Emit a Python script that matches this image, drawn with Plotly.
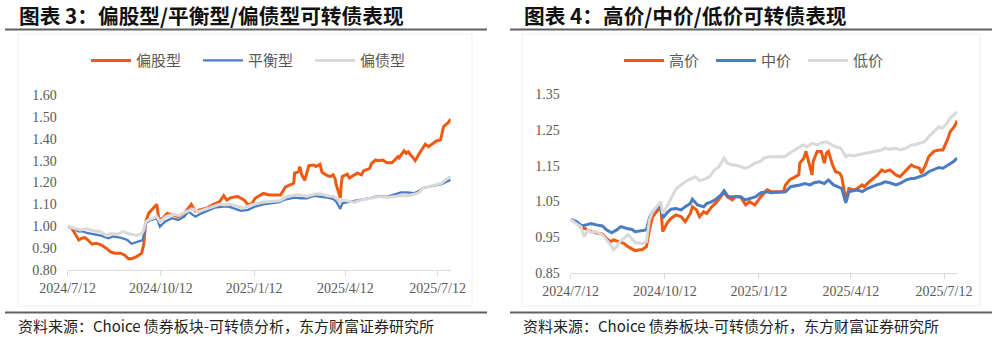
import plotly.graph_objects as go

W, H = 997, 337

# ---------------- data: left panel (偏股型/平衡型/偏债型) ----------------
eq_dates = ["2024-07-12","2024-07-16","2024-07-19","2024-07-23","2024-07-26","2024-07-29","2024-08-01","2024-08-05",
            "2024-08-09","2024-08-14","2024-08-19","2024-08-23","2024-08-27","2024-09-02","2024-09-06","2024-09-10",
            "2024-09-13","2024-09-18","2024-09-23","2024-09-25","2024-09-27","2024-09-30","2024-10-08","2024-10-10",
            "2024-10-14","2024-10-18","2024-10-24","2024-10-29","2024-11-04","2024-11-08","2024-11-11","2024-11-15",
            "2024-11-21","2024-11-26","2024-12-02","2024-12-09","2024-12-13","2024-12-16","2024-12-20","2024-12-27",
            "2025-01-02","2025-01-06","2025-01-10","2025-01-13","2025-01-21","2025-01-27","2025-02-07","2025-02-10",
            "2025-02-12","2025-02-17","2025-02-20","2025-02-21","2025-02-25","2025-02-26","2025-02-28","2025-03-03",
            "2025-03-05","2025-03-07","2025-03-12","2025-03-14","2025-03-18","2025-03-20","2025-03-24","2025-03-28",
            "2025-03-31","2025-04-02","2025-04-03","2025-04-07","2025-04-08","2025-04-09","2025-04-14","2025-04-16",
            "2025-04-21","2025-04-24","2025-04-28","2025-04-30","2025-05-06","2025-05-08","2025-05-12","2025-05-14",
            "2025-05-19","2025-05-23","2025-05-28","2025-06-03","2025-06-04","2025-06-09","2025-06-11","2025-06-13",
            "2025-06-17","2025-06-20","2025-06-24","2025-06-27","2025-06-30","2025-07-03","2025-07-08","2025-07-11",
            "2025-07-15","2025-07-16","2025-07-18","2025-07-23","2025-07-25"]
eq_vals = [1.000,0.991,0.968,0.937,0.945,0.948,0.937,0.918,
           0.922,0.915,0.900,0.884,0.877,0.877,0.869,0.851,
           0.851,0.861,0.877,0.915,1.021,1.060,1.100,1.029,
           1.037,1.059,1.052,1.044,1.059,1.082,1.100,1.070,
           1.075,1.082,1.098,1.113,1.140,1.120,1.131,1.136,
           1.120,1.098,1.105,1.128,1.150,1.143,1.143,1.166,
           1.180,1.190,1.197,1.243,1.250,1.273,1.235,1.210,
           1.247,1.277,1.280,1.273,1.283,1.247,1.235,1.227,
           1.235,1.216,1.190,1.130,1.190,1.227,1.238,1.220,
           1.235,1.243,1.235,1.253,1.265,1.288,1.303,1.300,
           1.303,1.290,1.290,1.318,1.313,1.345,1.333,1.340,
           1.318,1.300,1.333,1.356,1.375,1.364,1.380,1.390,
           1.395,1.418,1.456,1.476,1.490]

bal_dates = ["2024-07-12","2024-07-17","2024-07-23","2024-07-26","2024-08-01","2024-08-08","2024-08-14","2024-08-21",
             "2024-08-26","2024-09-02","2024-09-09","2024-09-13","2024-09-20","2024-09-24","2024-09-27","2024-09-30",
             "2024-10-08","2024-10-11","2024-10-16","2024-10-23","2024-10-29","2024-11-04","2024-11-08","2024-11-15",
             "2024-11-21","2024-11-28","2024-12-04","2024-12-13","2024-12-18","2024-12-23","2024-12-30","2025-01-06",
             "2025-01-13","2025-01-21","2025-02-06","2025-02-10","2025-02-14","2025-02-21","2025-02-27","2025-03-05",
             "2025-03-12","2025-03-18","2025-03-25","2025-03-31","2025-04-03","2025-04-07","2025-04-09","2025-04-14",
             "2025-04-21","2025-04-28","2025-05-06","2025-05-12","2025-05-16","2025-05-23","2025-05-30","2025-06-06",
             "2025-06-12","2025-06-19","2025-06-24","2025-06-27","2025-07-04","2025-07-11","2025-07-16","2025-07-21",
             "2025-07-25"]
bal_vals = [1.000,0.991,0.976,0.978,0.968,0.963,0.957,0.945,
            0.953,0.948,0.937,0.920,0.930,0.937,1.014,1.024,
            1.037,0.998,1.021,1.037,1.029,1.044,1.067,1.044,
            1.059,1.075,1.085,1.090,1.090,1.082,1.070,1.075,
            1.090,1.100,1.110,1.120,1.125,1.131,1.128,1.128,
            1.139,1.136,1.131,1.125,1.113,1.079,1.105,1.110,
            1.116,1.119,1.128,1.136,1.139,1.134,1.146,1.155,
            1.155,1.151,1.162,1.174,1.181,1.189,1.192,1.204,
            1.212]

bond_dates = ["2024-07-12","2024-07-17","2024-07-24","2024-07-31","2024-08-06","2024-08-13","2024-08-19","2024-08-23",
              "2024-08-30","2024-09-05","2024-09-10","2024-09-18","2024-09-23","2024-09-25","2024-09-27","2024-09-30",
              "2024-10-08","2024-10-11","2024-10-17","2024-10-24","2024-10-30","2024-11-06","2024-11-13","2024-11-18",
              "2024-11-25","2024-12-02","2024-12-09","2024-12-13","2024-12-20","2024-12-27","2025-01-02","2025-01-10",
              "2025-01-20","2025-02-06","2025-02-10","2025-02-14","2025-02-21","2025-02-27","2025-03-05","2025-03-12",
              "2025-03-18","2025-03-25","2025-03-31","2025-04-03","2025-04-07","2025-04-09","2025-04-14","2025-04-21",
              "2025-04-28","2025-05-06","2025-05-12","2025-05-16","2025-05-23","2025-05-30","2025-06-06","2025-06-12",
              "2025-06-19","2025-06-24","2025-06-27","2025-07-04","2025-07-11","2025-07-16","2025-07-21","2025-07-25"]
bond_vals = [1.000,0.994,0.983,0.988,0.979,0.976,0.958,0.966,
             0.963,0.975,0.966,0.958,0.966,0.983,1.021,1.029,
             1.044,1.021,1.044,1.055,1.049,1.067,1.079,1.067,
             1.079,1.090,1.100,1.098,1.100,1.090,1.085,1.098,
             1.110,1.116,1.128,1.136,1.143,1.143,1.136,1.146,
             1.149,1.139,1.136,1.128,1.110,1.120,1.116,1.110,
             1.120,1.128,1.131,1.136,1.131,1.136,1.140,1.140,
             1.146,1.155,1.171,1.181,1.189,1.197,1.216,1.227]

# ---------------- data: right panel (高价/中价/低价) ----------------
hi_dates = ["2024-07-12","2024-07-18","2024-07-23","2024-07-26","2024-08-01","2024-08-06","2024-08-12","2024-08-16",
            "2024-08-20","2024-08-23","2024-08-28","2024-09-02","2024-09-06","2024-09-11","2024-09-13","2024-09-20",
            "2024-09-24","2024-09-27","2024-09-30","2024-10-08","2024-10-10","2024-10-14","2024-10-18","2024-10-23",
            "2024-10-28","2024-11-01","2024-11-06","2024-11-08","2024-11-12","2024-11-15","2024-11-19","2024-11-22",
            "2024-11-27","2024-12-02","2024-12-06","2024-12-09","2024-12-12","2024-12-17","2024-12-20","2024-12-25",
            "2024-12-30","2025-01-03","2025-01-08","2025-01-14","2025-01-20","2025-01-24","2025-02-05","2025-02-07",
            "2025-02-11","2025-02-14","2025-02-17","2025-02-20","2025-02-21","2025-02-25","2025-02-27","2025-03-03",
            "2025-03-05","2025-03-06","2025-03-10","2025-03-14","2025-03-17","2025-03-19","2025-03-21","2025-03-25",
            "2025-03-28","2025-04-01","2025-04-03","2025-04-07","2025-04-10","2025-04-15","2025-04-18","2025-04-23",
            "2025-04-25","2025-04-30","2025-05-08","2025-05-12","2025-05-15","2025-05-20","2025-05-26","2025-05-30",
            "2025-06-05","2025-06-10","2025-06-13","2025-06-18","2025-06-20","2025-06-24","2025-06-27","2025-07-02",
            "2025-07-07","2025-07-11","2025-07-16","2025-07-18","2025-07-22","2025-07-25"]
hi_vals = [1.000,0.990,0.974,0.974,0.965,0.962,0.958,0.946,
           0.937,0.942,0.937,0.932,0.923,0.915,0.912,0.915,
           0.923,0.970,1.007,1.035,0.965,0.988,1.002,1.012,
           1.007,0.993,1.016,1.035,1.026,1.007,1.021,1.016,
           1.035,1.049,1.063,1.075,1.063,1.054,1.063,1.063,
           1.040,1.049,1.040,1.063,1.082,1.077,1.077,1.096,
           1.110,1.114,1.119,1.124,1.157,1.171,1.190,1.147,
           1.124,1.161,1.190,1.190,1.157,1.185,1.190,1.152,
           1.133,1.129,1.119,1.054,1.086,1.082,1.086,1.096,
           1.091,1.105,1.124,1.138,1.133,1.138,1.124,1.119,
           1.138,1.152,1.147,1.143,1.129,1.152,1.175,1.190,
           1.194,1.194,1.227,1.245,1.259,1.276]

mid_dates = ["2024-07-12","2024-07-18","2024-07-23","2024-07-26","2024-08-01","2024-08-06","2024-08-12","2024-08-16",
             "2024-08-21","2024-08-26","2024-08-30","2024-09-05","2024-09-10","2024-09-13","2024-09-20","2024-09-24",
             "2024-09-27","2024-09-30","2024-10-08","2024-10-10","2024-10-14","2024-10-18","2024-10-23","2024-10-28",
             "2024-11-01","2024-11-06","2024-11-08","2024-11-13","2024-11-19","2024-11-22","2024-11-27","2024-12-02",
             "2024-12-06","2024-12-09","2024-12-13","2024-12-17","2024-12-20","2024-12-25","2024-12-30","2025-01-03",
             "2025-01-09","2025-01-14","2025-01-20","2025-01-24","2025-02-07","2025-02-12","2025-02-17","2025-02-21",
             "2025-02-26","2025-03-03","2025-03-07","2025-03-12","2025-03-17","2025-03-21","2025-03-26","2025-03-31",
             "2025-04-03","2025-04-07","2025-04-10","2025-04-15","2025-04-18","2025-04-23","2025-04-28","2025-05-07",
             "2025-05-12","2025-05-15","2025-05-20","2025-05-26","2025-05-30","2025-06-05","2025-06-10","2025-06-13",
             "2025-06-18","2025-06-23","2025-06-27","2025-07-02","2025-07-07","2025-07-11","2025-07-16","2025-07-21",
             "2025-07-25"]
mid_vals = [1.000,0.993,0.981,0.984,0.988,0.984,0.981,0.970,
            0.962,0.970,0.979,0.974,0.971,0.965,0.967,0.970,
            1.003,1.021,1.040,1.003,1.017,1.028,1.030,1.026,
            1.035,1.044,1.056,1.040,1.035,1.044,1.049,1.058,
            1.068,1.080,1.063,1.063,1.061,1.063,1.054,1.058,
            1.063,1.074,1.077,1.074,1.077,1.091,1.093,1.096,
            1.100,1.096,1.102,1.105,1.100,1.110,1.096,1.091,
            1.086,1.046,1.077,1.080,1.082,1.077,1.086,1.096,
            1.100,1.105,1.102,1.096,1.100,1.110,1.114,1.114,
            1.119,1.124,1.133,1.138,1.145,1.143,1.152,1.161,
            1.171]

lo_dates = ["2024-07-12","2024-07-16","2024-07-22","2024-07-25","2024-07-29","2024-08-01","2024-08-06","2024-08-12",
            "2024-08-16","2024-08-20","2024-08-23","2024-08-26","2024-08-29","2024-09-02","2024-09-06","2024-09-11",
            "2024-09-13","2024-09-20","2024-09-24","2024-09-27","2024-09-30","2024-10-08","2024-10-10","2024-10-14",
            "2024-10-18","2024-10-23","2024-10-28","2024-11-01","2024-11-06","2024-11-11","2024-11-15","2024-11-20",
            "2024-11-25","2024-11-29","2024-12-04","2024-12-09","2024-12-12","2024-12-17","2024-12-20","2024-12-25",
            "2024-12-30","2025-01-03","2025-01-08","2025-01-13","2025-01-17","2025-01-22","2025-02-06","2025-02-11",
            "2025-02-14","2025-02-19","2025-02-24","2025-02-28","2025-03-05","2025-03-10","2025-03-14","2025-03-19",
            "2025-03-24","2025-03-28","2025-04-02","2025-04-07","2025-04-10","2025-04-15","2025-04-18","2025-04-23",
            "2025-04-28","2025-05-07","2025-05-12","2025-05-15","2025-05-20","2025-05-26","2025-05-30","2025-06-05",
            "2025-06-10","2025-06-13","2025-06-18","2025-06-23","2025-06-27","2025-07-02","2025-07-07","2025-07-10",
            "2025-07-15","2025-07-18","2025-07-22","2025-07-25"]
lo_vals = [1.000,0.990,0.979,0.951,0.970,0.962,0.965,0.956,
           0.942,0.928,0.914,0.923,0.937,0.946,0.956,0.942,
           0.934,0.932,0.937,0.998,1.021,1.049,1.016,1.035,
           1.058,1.085,1.096,1.105,1.112,1.119,1.108,1.112,
           1.120,1.136,1.147,1.171,1.157,1.152,1.152,1.147,
           1.143,1.147,1.157,1.161,1.171,1.175,1.175,1.185,
           1.190,1.199,1.208,1.203,1.213,1.208,1.214,1.217,
           1.208,1.203,1.199,1.175,1.180,1.177,1.180,1.183,
           1.185,1.190,1.194,1.199,1.196,1.199,1.194,1.199,
           1.208,1.208,1.213,1.217,1.231,1.245,1.259,1.255,
           1.269,1.283,1.292,1.301]

# ---------------- labels ----------------
left_names = ["偏股型", "平衡型", "偏债型"]
right_names = ["高价", "中价", "低价"]
tick_dates = ["2024-07-12", "2024-10-12", "2025-01-12", "2025-04-12", "2025-07-12"]
tick_labels = ["2024/7/12", "2024/10/12", "2025/1/12", "2025/4/12", "2025/7/12"]
title_left = "图表 3：偏股型/平衡型/偏债型可转债表现"
title_right = "图表 4：高价/中价/低价可转债表现"
source_text = "资料来源：Choice 债券板块-可转债分析，东方财富证券研究所"

ORANGE = "#EE5A12"
BLUE = "#4A7CC4"
GREY = "#D9D9D9"
AXIS_GREY = "#D9D9D9"
LABEL_GREY = "#595959"
CJK = "Noto Sans CJK SC"
SERIF = "Liberation Serif"


def px(x):
    return x / W


def py(y):
    return 1 - y / H


fig = go.Figure()
fig.add_trace(go.Scatter(x=eq_dates, y=eq_vals, name=left_names[0], mode="lines",
                         line=dict(color=ORANGE, width=3), xaxis="x", yaxis="y", legend="legend"))
fig.add_trace(go.Scatter(x=bal_dates, y=bal_vals, name=left_names[1], mode="lines",
                         line=dict(color=BLUE, width=2.3), xaxis="x", yaxis="y", legend="legend"))
fig.add_trace(go.Scatter(x=bond_dates, y=bond_vals, name=left_names[2], mode="lines",
                         line=dict(color=GREY, width=3), xaxis="x", yaxis="y", legend="legend"))
fig.add_trace(go.Scatter(x=hi_dates, y=hi_vals, name=right_names[0], mode="lines",
                         line=dict(color=ORANGE, width=3), xaxis="x2", yaxis="y2", legend="legend2"))
fig.add_trace(go.Scatter(x=mid_dates, y=mid_vals, name=right_names[1], mode="lines",
                         line=dict(color=BLUE, width=3), xaxis="x2", yaxis="y2", legend="legend2"))
fig.add_trace(go.Scatter(x=lo_dates, y=lo_vals, name=right_names[2], mode="lines",
                         line=dict(color=GREY, width=3), xaxis="x2", yaxis="y2", legend="legend2"))

xaxis_common = dict(type="date", tickmode="array", tickvals=tick_dates, ticktext=tick_labels,
                    showgrid=False, zeroline=False, showline=True, linecolor=AXIS_GREY, linewidth=1,
                    ticks="outside", ticklen=5, tickwidth=1, tickcolor=AXIS_GREY,
                    tickfont=dict(family=SERIF, size=14, color=LABEL_GREY),
                    range=["2024-07-12", "2025-07-25"], fixedrange=True, automargin=False)
yaxis_common = dict(showgrid=False, zeroline=False, showline=False, ticks="",
                    tickformat=".2f", tickfont=dict(family=SERIF, size=14, color=LABEL_GREY),
                    ticklabelstandoff=10, fixedrange=True, automargin=False)

legend_common = dict(orientation="h", xanchor="left", yanchor="middle", bgcolor="rgba(0,0,0,0)",
                     font=dict(family=CJK, size=15, color=LABEL_GREY), itemwidth=40,
                     entrywidthmode="pixels", traceorder="normal")

shapes = [
    dict(type="line", xref="paper", yref="paper", x0=px(5), x1=px(487), y0=py(29.5), y1=py(29.5),
         line=dict(color="#606060", width=2)),
    dict(type="line", xref="paper", yref="paper", x0=px(510), x1=px(992), y0=py(29.5), y1=py(29.5),
         line=dict(color="#606060", width=2)),
    dict(type="line", xref="paper", yref="paper", x0=px(5), x1=px(487), y0=py(312.5), y1=py(312.5),
         line=dict(color="#606060", width=2)),
    dict(type="line", xref="paper", yref="paper", x0=px(510), x1=px(992), y0=py(312.5), y1=py(312.5),
         line=dict(color="#606060", width=2)),
    dict(type="rect", xref="paper", yref="paper", x0=px(18), x1=px(472), y0=py(306), y1=py(34),
         line=dict(color="#EEEEEE", width=1), layer="below"),
    dict(type="rect", xref="paper", yref="paper", x0=px(522), x1=px(980), y0=py(306), y1=py(34),
         line=dict(color="#EEEEEE", width=1), layer="below"),
]

annotations = [
    dict(text="<b>" + title_left + "</b>", xref="paper", yref="paper", x=px(17), y=py(15),
         xanchor="left", yanchor="middle", showarrow=False, font=dict(family=CJK, size=20.7, color="#111111")),
    dict(text="<b>" + title_right + "</b>", xref="paper", yref="paper", x=px(522), y=py(15),
         xanchor="left", yanchor="middle", showarrow=False, font=dict(family=CJK, size=20.7, color="#111111")),
    dict(text=source_text, xref="paper", yref="paper", x=px(16), y=py(325),
         xanchor="left", yanchor="middle", showarrow=False, font=dict(family=CJK, size=15, color="#222222")),
    dict(text=source_text, xref="paper", yref="paper", x=px(521), y=py(325),
         xanchor="left", yanchor="middle", showarrow=False, font=dict(family=CJK, size=15, color="#222222")),
]

fig.update_layout(
    width=W, height=H, margin=dict(l=0, r=0, t=0, b=0, autoexpand=False),
    paper_bgcolor="white", plot_bgcolor="white",
    xaxis=dict(domain=[px(67.7), px(450.7)], anchor="y", **xaxis_common),
    yaxis=dict(domain=[py(270), py(95)], anchor="x", range=[0.80, 1.60], dtick=0.1, tick0=0.8, **yaxis_common),
    xaxis2=dict(domain=[px(570.7), px(957.3)], anchor="y2", **xaxis_common),
    yaxis2=dict(domain=[py(272.7), py(94.3)], anchor="x2", range=[0.85, 1.35], dtick=0.1, tick0=0.85, **yaxis_common),
    legend=dict(x=px(86), y=py(60.7), entrywidth=57, **legend_common),
    legend2=dict(x=px(619), y=py(60.7), entrywidth=37, **legend_common),
    shapes=shapes, annotations=annotations, showlegend=True,
)

fig.write_html("out.html")
